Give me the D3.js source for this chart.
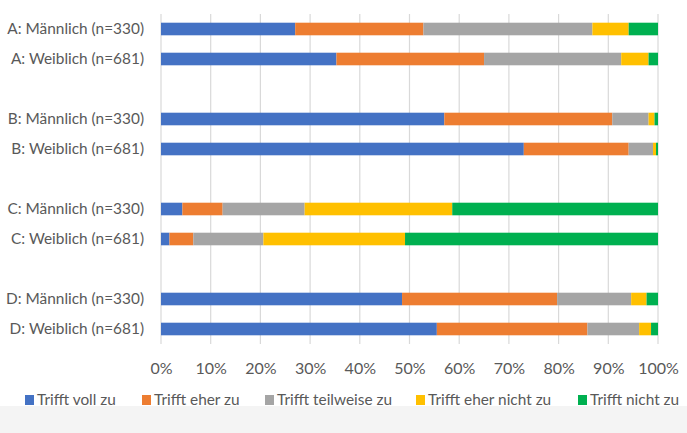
<!DOCTYPE html>
<html>
<head>
<meta charset="utf-8">
<script src="https://cdn.jsdelivr.net/npm/d3@7"></script>
<style>
	body { margin: 0; background: #fff; }
	svg { display: block; font-family: Lato, 'Open Sans', sans-serif; }
</style>
</head>
<body>
<svg id="chart" width="687" height="433"></svg>
<script>
// rows, top to bottom; null marks an empty slot between groups
const rows = [
	'A: Männlich (n=330)', 'A: Weiblich (n=681)', null,
	'B: Männlich (n=330)', 'B: Weiblich (n=681)', null,
	'C: Männlich (n=330)', 'C: Weiblich (n=681)', null,
	'D: Männlich (n=330)', 'D: Weiblich (n=681)',
];
const answers = ['Trifft voll zu', 'Trifft eher zu', 'Trifft teilweise zu', 'Trifft eher nicht zu', 'Trifft nicht zu'];
const colors = ['#4472C4', '#ED7D31', '#A5A5A5', '#FFC000', '#00B050'];

// percent per answer, one value per non-empty row
const vollZu      = [27.0, 35.3, 57.0, 73.0,  4.3,  1.7, 48.5, 55.5];
const eherZu      = [25.8, 29.7, 33.8, 21.1,  8.1,  4.8, 31.2, 30.3];
const teilweiseZu = [34.0, 27.6,  7.3,  4.9, 16.5, 14.1, 14.9, 10.4];
const eherNichtZu = [ 7.3,  5.5,  1.2,  0.6, 29.7, 28.5,  3.1,  2.4];
const nichtZu     = [ 5.9,  1.9,  0.7,  0.4, 41.4, 50.9,  2.3,  1.4];

const ticks = [0, 10, 20, 30, 40, 50, 60, 70, 80, 90, 100];

const series = [vollZu, eherZu, teilweiseZu, eherNichtZu, nichtZu];
const labels = rows.filter(r => r);
const data = labels.map((label, i) => {
	const d = { label };
	answers.forEach((a, k) => { d[a] = series[k][i]; });
	return d;
});

const margin = { top: 14, right: 29, bottom: 89, left: 161 };
const width = 687 - margin.left - margin.right;
const height = 433 - margin.top - margin.bottom;
const textColor = '#595959';
const fontSize = 15.4;

const svg = d3.select('#chart');
const g = svg.append('g')
	.attr('transform', `translate(${ margin.left }, ${ margin.top })`);

const x = d3.scaleLinear().domain([0, 100]).range([0, width]);
const keys = rows.map((r, i) => r ?? `gap${ i }`);
const y = d3.scaleBand().domain(keys).range([0, height]).paddingInner(0.58).paddingOuter(0.29);

// gridlines
g.append('g')
	.selectAll('line')
	.data(ticks)
	.join('line')
		.attr('x1', d => x(d))
		.attr('x2', d => x(d))
		.attr('y1', 0)
		.attr('y2', height)
		.attr('stroke', '#d9d9d9')
		.attr('stroke-width', 1.2);

// stacked bars
const stacked = d3.stack().keys(answers)(data);
g.append('g')
	.selectAll('g')
	.data(stacked)
	.join('g')
		.attr('fill', (d, i) => colors[i])
	.selectAll('rect')
	.data(d => d)
	.join('rect')
		.attr('x', d => x(d[0]))
		.attr('width', d => x(d[1]) - x(d[0]))
		.attr('y', d => y(d.data.label))
		.attr('height', y.bandwidth());

// category labels
g.append('g')
	.selectAll('text')
	.data(labels)
	.join('text')
		.attr('x', -17)
		.attr('y', d => y(d) + y.bandwidth() / 2)
		.attr('dy', '0.35em')
		.attr('text-anchor', 'end')
		.attr('fill', textColor)
		.attr('font-size', fontSize)
		.text(d => d);

// x axis labels
const xAxis = g.append('g')
	.attr('transform', `translate(0, ${ height })`)
	.call(d3.axisBottom(x).tickValues(ticks).tickFormat(d => `${ d }%`).tickSize(0).tickPadding(19));
xAxis.select('.domain').remove();
xAxis.selectAll('text')
	.attr('fill', textColor)
	.attr('font-size', fontSize + 0.6)
	.attr('font-family', 'Lato, sans-serif');

// legend, item starts as measured on the reference
const legendX = [25, 142, 265, 416, 578];
const legend = svg.append('g').attr('transform', 'translate(0, 405)');
const item = legend.selectAll('g')
	.data(answers)
	.join('g')
		.attr('transform', (d, i) => `translate(${ legendX[i] }, 0)`);
item.append('rect')
	.attr('y', -10)
	.attr('width', 9)
	.attr('height', 10)
	.attr('fill', (d, i) => colors[i]);
item.append('text')
	.attr('x', 12)
	.attr('fill', textColor)
	.attr('font-size', fontSize)
	.text(d => d);

// light band at the bottom of the picture
svg.append('rect')
	.attr('x', 0)
	.attr('y', 406)
	.attr('width', 687)
	.attr('height', 27)
	.attr('fill', '#f4f4f4');
</script>
</body>
</html>
